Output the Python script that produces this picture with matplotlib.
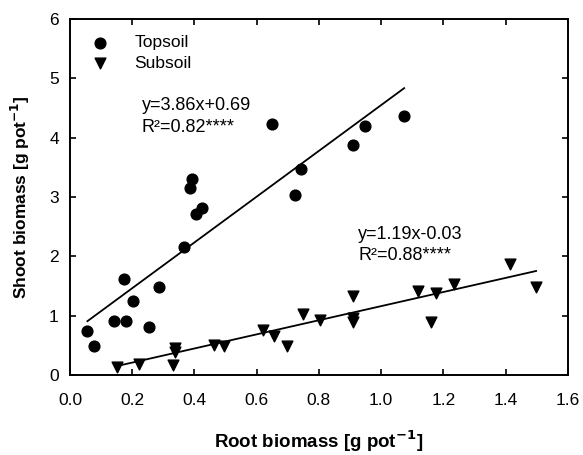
import matplotlib
matplotlib.use("Agg")
import matplotlib.pyplot as plt
import numpy as np

plt.rcParams['font.family'] = ['Liberation Sans', 'DejaVu Sans']

# topsoil: root vs shoot biomass
top_root = [0.056, 0.078, 0.142, 0.180, 0.173, 0.204, 0.255, 0.286, 0.368, 0.387,
            0.393, 0.405, 0.425, 0.650, 0.723, 0.743, 0.909, 0.949, 1.074]
top_shoot = [0.74, 0.49, 0.91, 0.91, 1.62, 1.25, 0.81, 1.49, 2.15, 3.16,
             3.30, 2.72, 2.81, 4.23, 3.03, 3.48, 3.87, 4.19, 4.37]

# subsoil
sub_root = [0.150, 0.223, 0.330, 0.339, 0.339, 0.463, 0.494, 0.620, 0.655, 0.697,
            0.749, 0.804, 0.909, 0.909, 0.909, 1.117, 1.160, 1.177, 1.235, 1.415, 1.498]
sub_shoot = [0.13, 0.18, 0.17, 0.38, 0.46, 0.51, 0.48, 0.76, 0.66, 0.48,
             1.02, 0.92, 1.33, 0.90, 0.96, 1.42, 0.89, 1.38, 1.53, 1.87, 1.49]

top_fit = (3.86, 0.69)
sub_fit = (1.19, -0.03)
top_label = ["y=3.86x+0.69", "R²=0.82****"]
sub_label = ["y=1.19x-0.03", "R²=0.88****"]

fig = plt.figure(figsize=(5.83, 4.55), dpi=100)
ax = fig.add_axes([0.120, 0.176, 0.854, 0.782])

ax.scatter(top_root, top_shoot, s=60, marker='o', color='black', label='Topsoil', zorder=3)
ax.scatter(sub_root, sub_shoot, s=60, marker='v', color='black', label='Subsoil', zorder=3)

xs = np.array([min(top_root), max(top_root)])
ax.plot(xs, top_fit[0] * xs + top_fit[1], color='black', lw=1.3)
xs = np.array([min(sub_root), max(sub_root)])
ax.plot(xs, sub_fit[0] * xs + sub_fit[1], color='black', lw=1.3)

# equations, one line at a time
ax.text(0.23, 4.46, top_label[0], fontsize=13, va='baseline', ha='left')
ax.text(0.23, 4.09, top_label[1], fontsize=13, va='baseline', ha='left')
ax.text(0.926, 2.29, sub_label[0], fontsize=13, va='baseline', ha='left')
ax.text(0.926, 1.94, sub_label[1], fontsize=13, va='baseline', ha='left')

ax.set_xlim(0, 1.6)
ax.set_ylim(0, 6)
ax.set_xticks(np.arange(0, 1.61, 0.2))
ax.set_xticklabels(["%.1f" % v for v in np.arange(0, 1.61, 0.2)])
ax.set_yticks(range(0, 7))
ax.tick_params(direction='in', top=True, right=True, labelsize=12.5, length=4, width=1.2)
ax.tick_params(axis='x', pad=13)
ax.tick_params(axis='y', pad=8)
for s in ax.spines.values():
    s.set_linewidth(1.4)

ax.set_xlabel("Root biomass [g pot$^{\\mathbf{-1}}$]", fontsize=13.5, fontweight='bold', labelpad=15)
ax.set_ylabel("Shoot biomass [g pot$^{\\mathbf{-1}}$]", fontsize=12.5, fontweight='bold', labelpad=12)

ax.legend(loc='upper left', bbox_to_anchor=(0.011, 0.975), frameon=False, fontsize=12.5,
          handletextpad=1.0, borderaxespad=0.0, labelspacing=0.32, scatterpoints=1)

fig.savefig("out.png", dpi=100)
